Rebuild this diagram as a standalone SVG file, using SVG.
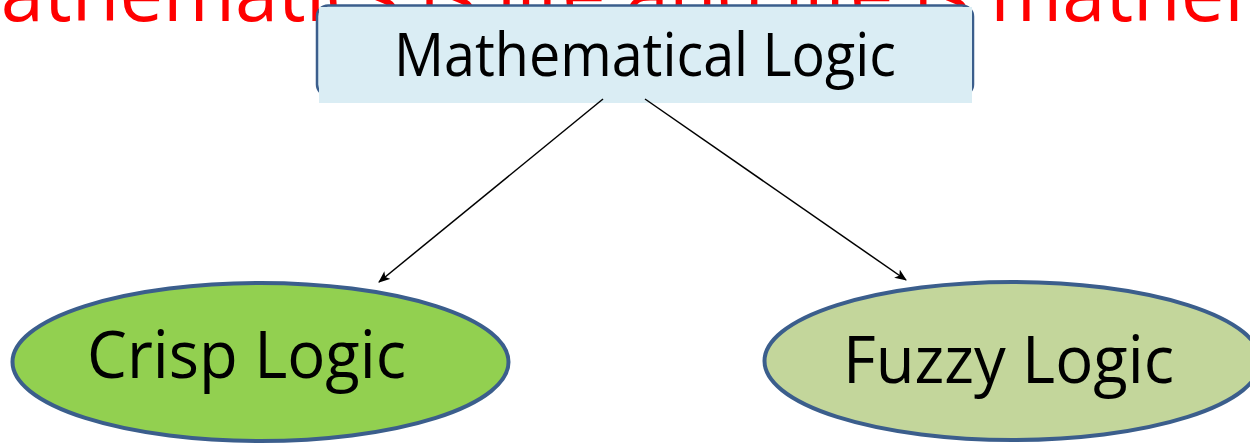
<svg xmlns="http://www.w3.org/2000/svg" width="1250" height="444" viewBox="0 0 1250 444">
  <defs>
    <style>
      .lbl { font-family: "Open Sans", "Liberation Sans", sans-serif; fill: #000000; }
      .title { font-family: "Open Sans", "Liberation Sans", sans-serif; fill: #FF0000; }
      .node-stroke { stroke: #3B5E8C; stroke-width: 4; }
      .conn { stroke: #000000; stroke-width: 1.5; fill: none; marker-end: url(#arrow); }
    </style>
    <marker id="arrow" viewBox="0 0 12 10" refX="11" refY="5" markerWidth="12" markerHeight="10" markerUnits="userSpaceOnUse" orient="auto">
      <path d="M0,0 L12,5 L0,10 L3,5 Z" fill="#000000"/>
    </marker>
  </defs>
  <rect width="1250" height="444" fill="#FFFFFF"/>

  <text class="title" x="-69" y="21" font-size="79" textLength="1530" lengthAdjust="spacingAndGlyphs">Mathematics is life and life is mathematics</text>

  <g id="node-mathematical-logic">
    <rect x="317" y="5.5" width="656" height="90" rx="11" ry="11" fill="#DAEDF4" stroke="#3B5E8C" stroke-width="2.5"/>
    <rect x="319" y="7" width="653" height="96" fill="#DAEDF4"/>
    <text class="lbl" x="394" y="76" font-size="60" textLength="502" lengthAdjust="spacingAndGlyphs">Mathematical Logic</text>
  </g>

  <g id="connectors">
    <line class="conn" x1="603" y1="99" x2="379" y2="282"/>
    <line class="conn" x1="645" y1="99" x2="906" y2="280"/>
  </g>

  <g id="node-crisp-logic">
    <ellipse class="node-stroke" cx="260.5" cy="362" rx="248" ry="79" fill="#92D050"/>
    <text class="lbl" x="87" y="378" font-size="66" textLength="319" lengthAdjust="spacingAndGlyphs">Crisp Logic</text>
  </g>

  <g id="node-fuzzy-logic">
    <ellipse class="node-stroke" cx="1012.5" cy="361" rx="248" ry="79" fill="#C3D69B"/>
    <text class="lbl" x="843" y="383" font-size="65" textLength="331" lengthAdjust="spacingAndGlyphs">Fuzzy Logic</text>
  </g>
</svg>
